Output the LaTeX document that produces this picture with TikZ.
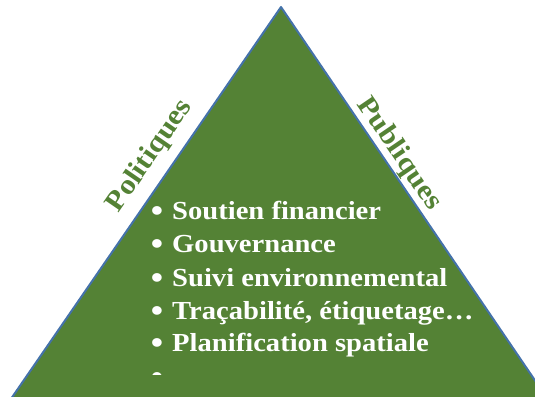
\documentclass[tikz,border=0pt]{standalone}
\usepackage{fontspec}
\setmainfont{Liberation Serif}[FakeStretch=1.1]
\definecolor{leaf}{RGB}{84,130,53}
\definecolor{rim}{RGB}{68,114,170}
\begin{document}
\begin{tikzpicture}[x=1pt,y=1pt,
  sidelabel/.style={font=\fontsize{28}{32}\selectfont\bfseries, text=leaf, inner sep=0pt},
  itemtext/.style={font=\fontsize{26}{30}\selectfont\bfseries, text=white, anchor=base west, inner sep=0pt},
  itemdot/.style={font=\fontsize{32}{30}\selectfont\bfseries, text=white, anchor=base, inner sep=0pt}]
\useasboundingbox (0,0) rectangle (535,396);
\clip (0,0) rectangle (535,396);
% the pyramid, its base running past the lower edge
\coordinate (apex) at (281,389);
\coordinate (baseL) at (-7.7,-30);
\coordinate (baseR) at (566,-30);
\draw[rim, line width=2pt, fill=leaf, line join=round] (apex) -- (baseR) -- (baseL) -- cycle;
% labels along the two sides
\node[sidelabel, rotate=55.4] (pol) at (150,240) {Politiques};
\node[sidelabel, rotate=-55.75] (pub) at (399,242) {Publiques};
% bulleted list inside the pyramid, cut off at the bottom
\begin{scope}
\clip (0,22) rectangle (535,396);
\foreach \y/\t [count=\i] in {176/{Soutien financier},143/{Gouvernance},109/{Suivi environnemental},76/{Traçabilité, étiquetage…},44/{Planification spatiale},11/{}}{
  \node[itemdot] (dot\i) at (157,\y-2) {\textbullet};
  \node[itemtext] (item\i) at (172,\y) {\t};
}
\end{scope}
\end{tikzpicture}
\end{document}
